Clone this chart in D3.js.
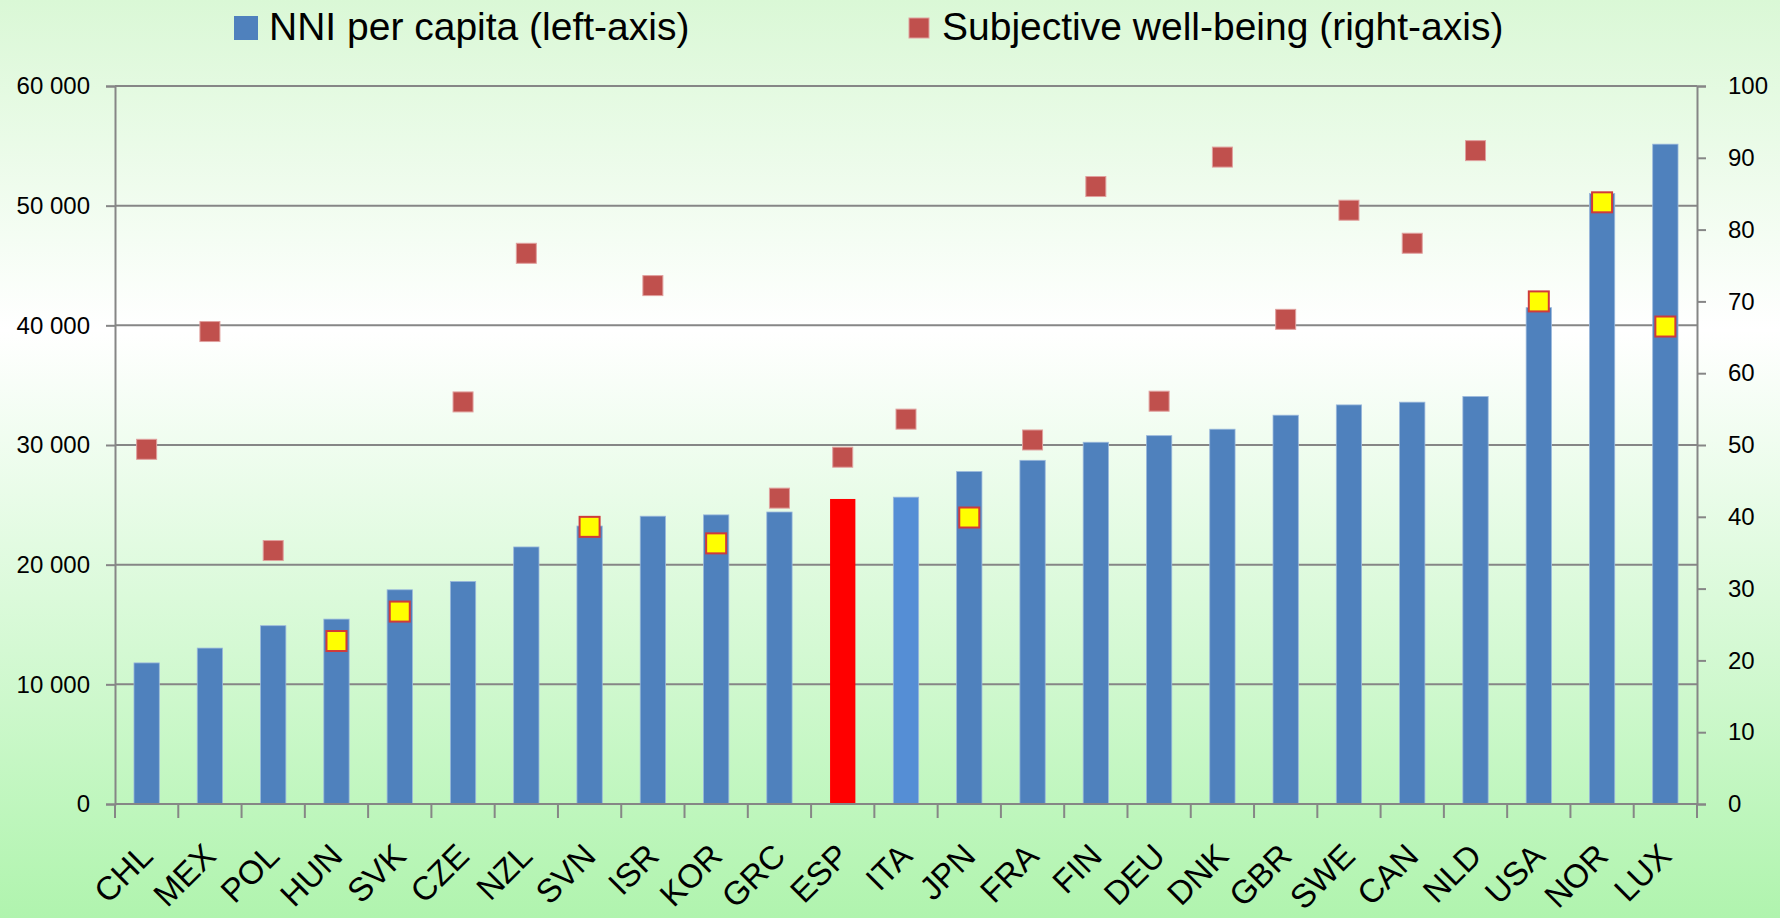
<!DOCTYPE html>
<html>
<head>
<meta charset="utf-8">
<script src="https://cdn.jsdelivr.net/npm/d3@7"></script>
<style>
  body { margin: 0; }
  svg { display: block; font-family: "Liberation Sans", Arial, sans-serif; }
</style>
</head>
<body>
<div id="chart"></div>
<script>
// data
const countries = ["CHL","MEX","POL","HUN","SVK","CZE","NZL","SVN","ISR","KOR","GRC","ESP","ITA",
                   "JPN","FRA","FIN","DEU","DNK","GBR","SWE","CAN","NLD","USA","NOR","LUX"];
const nniPerCapita = [11790,13030,14900,15450,17900,18600,21480,23230,24050,24160,24400,25490,25640,
                      27780,28720,30230,30780,31320,32490,33350,33580,34050,41480,51010,55140];
const wellBeing = [49.4,65.8,35.3,22.7,26.8,56.0,76.7,38.6,72.2,36.3,42.6,48.3,53.6,
                   39.9,50.7,86.0,56.1,90.1,67.5,82.7,78.1,91.0,70.0,83.8,66.5];
const yellowMarkers = ["HUN","SVK","SVN","KOR","JPN","USA","NOR","LUX"];
const leftTicks = [0,10000,20000,30000,40000,50000,60000];
const rightTicks = [0,10,20,30,40,50,60,70,80,90,100];
const legendLabels = ["NNI per capita (left-axis)", "Subjective well-being (right-axis)"];

const W = 1780, H = 918;
const plot = {left: 115, right: 1697, top: 86, bottom: 804};

const svg = d3.select("#chart").append("svg")
  .attr("width", W).attr("height", H);

// background gradient
const grad = svg.append("defs").append("linearGradient")
  .attr("id", "bg").attr("x1", 0).attr("y1", 0).attr("x2", 0).attr("y2", 1);
grad.append("stop").attr("offset", "0%").attr("stop-color", "#daf8d6");
grad.append("stop").attr("offset", "36%").attr("stop-color", "#ffffff");
grad.append("stop").attr("offset", "100%").attr("stop-color", "#b0f4ae");
svg.append("rect").attr("width", W).attr("height", H).attr("fill", "url(#bg)");

const x = d3.scaleBand().domain(countries)
  .range([plot.left, plot.right]).paddingInner(0.6).paddingOuter(0.3);
const xCat = d3.scaleBand().domain(countries).range([plot.left, plot.right]).padding(0);
const yL = d3.scaleLinear().domain([0, 60000]).range([plot.bottom, plot.top]);
const yR = d3.scaleLinear().domain([0, 100]).range([plot.bottom, plot.top]);

const gray = "#868686";

// gridlines
svg.append("g").selectAll("line").data(leftTicks.slice(1)).join("line")
  .attr("x1", plot.left).attr("x2", plot.right)
  .attr("y1", d => yL(d)).attr("y2", d => yL(d))
  .attr("stroke", gray).attr("stroke-width", 2);

// bars
const barData = countries.map((c, i) => ({c, v: nniPerCapita[i]}));
svg.append("g").selectAll("rect").data(barData).join("rect")
  .attr("x", d => x(d.c))
  .attr("width", x.bandwidth())
  .attr("y", d => yL(d.v))
  .attr("height", d => yL(0) - yL(d.v))
  .attr("fill", d => d.c === "ESP" ? "#ff0000" : d.c === "ITA" ? "#558ed5" : "#4f81bd")
  .attr("stroke", d => d.c === "ESP" ? "none" : "#9bb8dc")
  .attr("stroke-width", 0.8);

// axes
const fmt = d => d3.format(",")(d).replace(/,/g, " ");
const axL = svg.append("g").attr("transform", `translate(${plot.left},0)`)
  .call(d3.axisLeft(yL).tickValues(leftTicks).tickFormat(fmt).tickSize(9).tickPadding(16));
const axR = svg.append("g").attr("transform", `translate(${plot.right},0)`)
  .call(d3.axisRight(yR).tickValues(rightTicks).tickSize(9).tickPadding(22));
[axL, axR].forEach(a => {
  a.select(".domain").attr("stroke", gray).attr("stroke-width", 2);
  a.selectAll(".tick line").attr("stroke", gray).attr("stroke-width", 2);
  a.selectAll("text").attr("font-size", 24).attr("fill", "#000")
    .attr("font-family", "Liberation Sans, Arial, sans-serif");
});

// category axis: baseline + boundary ticks + rotated labels
const gx = svg.append("g");
gx.append("line").attr("x1", plot.left).attr("x2", plot.right)
  .attr("y1", plot.bottom).attr("y2", plot.bottom)
  .attr("stroke", gray).attr("stroke-width", 2);
gx.selectAll("line.tk").data(countries.map(c => xCat(c)).concat([plot.right])).join("line")
  .attr("class", "tk")
  .attr("x1", d => d).attr("x2", d => d)
  .attr("y1", plot.bottom).attr("y2", plot.bottom + 14)
  .attr("stroke", gray).attr("stroke-width", 2);
gx.selectAll("text").data(countries).join("text")
  .attr("transform", d => `translate(${x(d) + x.bandwidth() / 2 + 8},858) rotate(-45)`)
  .attr("text-anchor", "end")
  .attr("font-size", 33)
  .text(d => d);

// well-being markers
const ptData = countries.map((c, i) => ({c, v: wellBeing[i]}));
svg.append("g").selectAll("rect").data(ptData).join("rect")
  .attr("x", d => x(d.c) + x.bandwidth() / 2 - 10)
  .attr("y", d => yR(d.v) - 10)
  .attr("width", 20).attr("height", 20)
  .attr("fill", d => yellowMarkers.includes(d.c) ? "#ffff00" : "#c0504d")
  .attr("stroke", d => yellowMarkers.includes(d.c) ? "#d03a3a" : "#e0a09e")
  .attr("stroke-width", d => yellowMarkers.includes(d.c) ? 2 : 1);

// legend
const lg = svg.append("g");
lg.append("rect").attr("x", 234).attr("y", 16).attr("width", 24).attr("height", 24).attr("fill", "#4f81bd");
lg.append("text").attr("x", 269).attr("y", 40).attr("font-size", 39).text(legendLabels[0]);
lg.append("rect").attr("x", 909).attr("y", 18).attr("width", 20).attr("height", 20)
  .attr("fill", "#c0504d").attr("stroke", "#e0a09e");
lg.append("text").attr("x", 942).attr("y", 40).attr("font-size", 39).text(legendLabels[1]);
</script>
</body>
</html>
